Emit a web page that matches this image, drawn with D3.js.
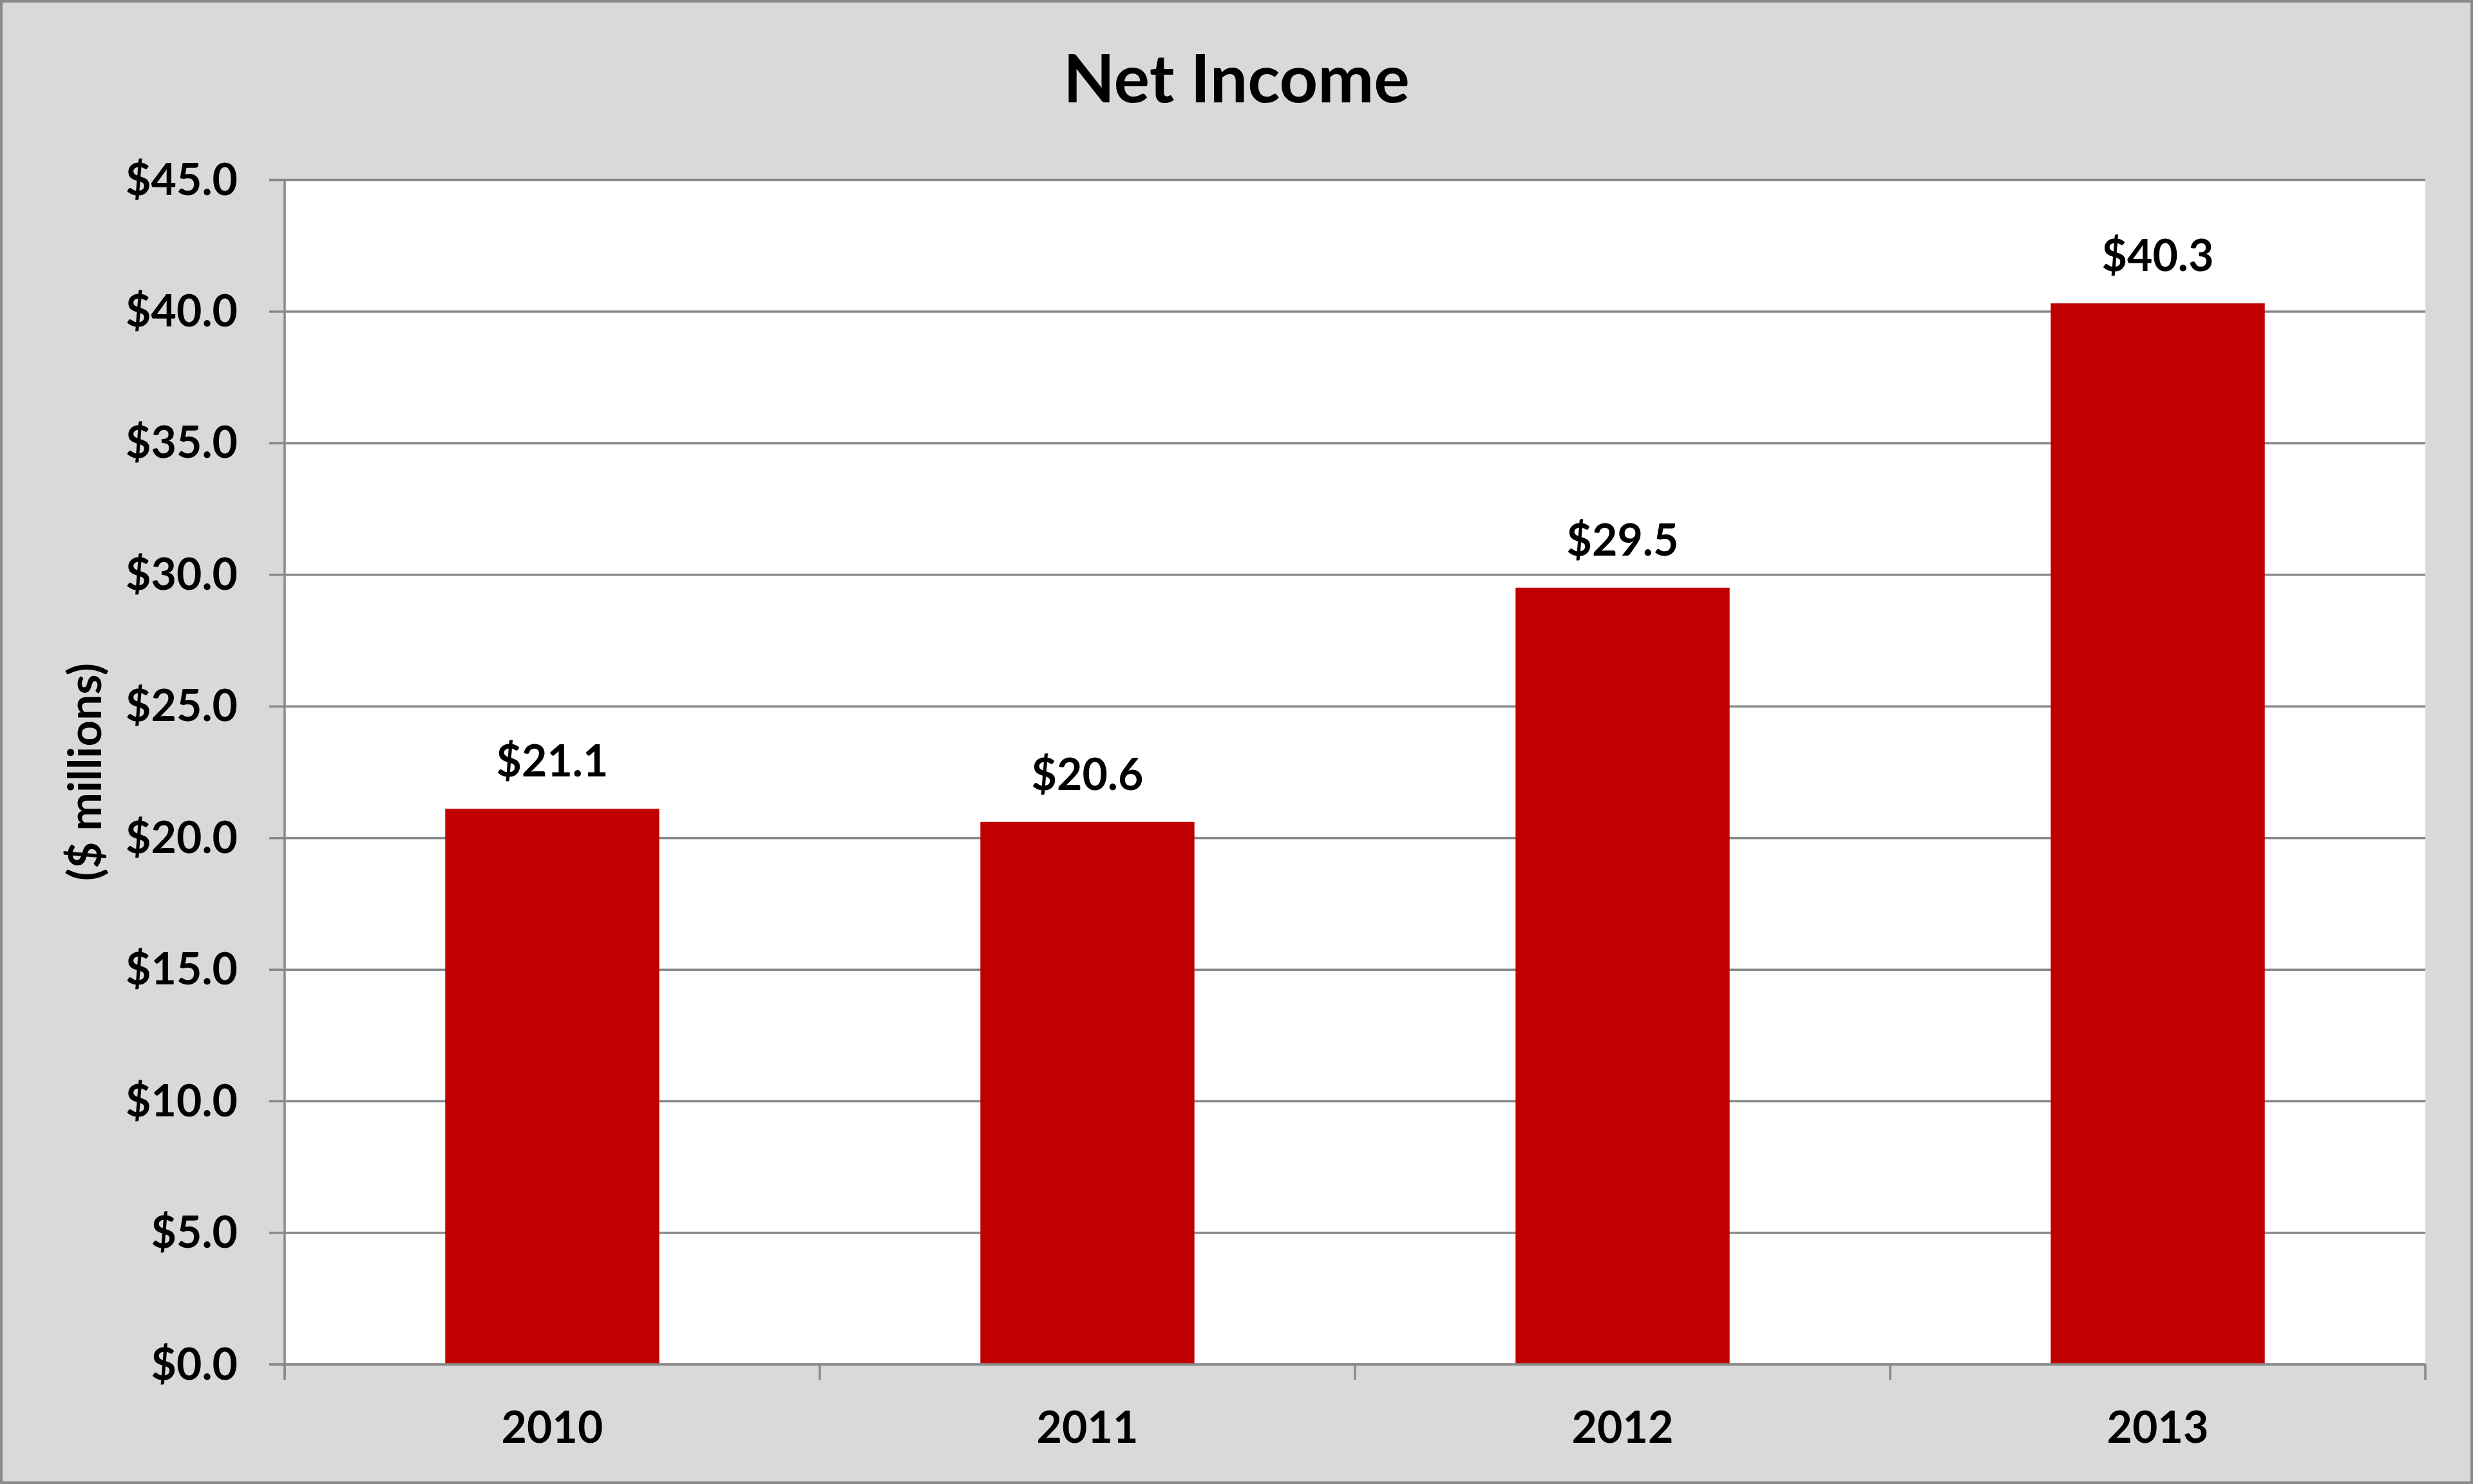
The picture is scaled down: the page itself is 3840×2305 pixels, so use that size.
<!DOCTYPE html>
<html>
<head>
<meta charset="utf-8">
<script src="https://cdn.jsdelivr.net/npm/d3@7"></script>
<style>
  html, body { margin: 0; padding: 0; background: #d9d9d9; }
  svg { display: block; }
  text { font-family: Lato, "Open Sans", sans-serif; font-weight: bold; fill: #000; }
</style>
</head>
<body>
<script>
// ---- data ----
const categories = ["2010", "2011", "2012", "2013"];
const netIncome = [21.1, 20.6, 29.5, 40.3];
const yTicks = [0, 5, 10, 15, 20, 25, 30, 35, 40, 45];
const chartTitle = "Net Income";
const yAxisTitle = "($ millions)";

const W = 3840, H = 2305;
const margin = { left: 442, right: 3840 - 3766, top: 279, bottom: 2305 - 2119 };
const tickLen = 24;
const gridColor = "#898989";

const svg = d3.select("body").append("svg")
  .attr("width", W).attr("height", H);

// background + outer border
svg.append("rect").attr("x", 2).attr("y", 2).attr("width", W - 4).attr("height", H - 4)
  .attr("fill", "#d9d9d9").attr("stroke", "#8a8a8a").attr("stroke-width", 4);

const x = d3.scaleBand().domain(categories)
  .range([margin.left, W - margin.right]).paddingInner(0.6).paddingOuter(0.3);
const y = d3.scaleLinear().domain([0, 45]).range([H - margin.bottom, margin.top]);

// plot area
svg.append("rect")
  .attr("x", margin.left).attr("y", margin.top)
  .attr("width", W - margin.right - margin.left)
  .attr("height", H - margin.bottom - margin.top)
  .attr("fill", "#ffffff");

// y axis with gridlines
const yAxis = d3.axisLeft(y).tickValues(yTicks)
  .tickSize(-(W - margin.right - margin.left) - tickLen)
  .tickFormat(d => "$" + d3.format(".1f")(d));
const gy = svg.append("g").attr("transform", `translate(${margin.left - tickLen},0)`).call(yAxis);
gy.select(".domain").remove();
gy.selectAll(".tick line").attr("stroke", gridColor).attr("stroke-width", 3.5);
gy.selectAll(".tick text")
  .attr("x", -49).attr("dy", null).attr("y", 23)
  .attr("text-anchor", "end")
  .style("font-size", "68px").style("font-family", "Lato, 'Open Sans', sans-serif").style("font-weight", "bold");
gy.attr("font-size", null).attr("font-family", null);

// y axis vertical line
svg.append("line")
  .attr("x1", margin.left).attr("x2", margin.left)
  .attr("y1", margin.top).attr("y2", H - margin.bottom + tickLen)
  .attr("stroke", gridColor).attr("stroke-width", 3.5);

// bars
svg.append("g").selectAll("rect").data(netIncome).join("rect")
  .attr("x", (d, i) => x(categories[i]))
  .attr("width", x.bandwidth())
  .attr("y", d => y(d))
  .attr("height", d => y(0) - y(d))
  .attr("fill", "#c00000");

// x axis line (redraw over bars)
svg.append("line")
  .attr("x1", margin.left - tickLen).attr("x2", W - margin.right)
  .attr("y1", y(0)).attr("y2", y(0))
  .attr("stroke", gridColor).attr("stroke-width", 3.5);

// x ticks at category boundaries
const step = x.step();
const boundaries = d3.range(categories.length + 1).map(i => margin.left + i * step);
svg.append("g").selectAll("line").data(boundaries).join("line")
  .attr("x1", d => d).attr("x2", d => d)
  .attr("y1", y(0)).attr("y2", y(0) + tickLen)
  .attr("stroke", gridColor).attr("stroke-width", 3.5);

// x labels
svg.append("g").selectAll("text").data(categories).join("text")
  .attr("x", d => x(d) + x.bandwidth() / 2)
  .attr("y", 2241)
  .attr("text-anchor", "middle")
  .style("font-size", "68px")
  .text(d => d);

// data labels
svg.append("g").selectAll("text").data(netIncome).join("text")
  .attr("x", (d, i) => x(categories[i]) + x.bandwidth() / 2)
  .attr("y", d => y(d) - 50)
  .attr("text-anchor", "middle")
  .style("font-size", "68px")
  .text(d => "$" + d3.format(".1f")(d));

// title
svg.append("text")
  .attr("x", W / 2).attr("y", 159)
  .attr("text-anchor", "middle")
  .style("font-size", "104px")
  .text(chartTitle);

// y axis title
svg.append("text")
  .attr("transform", `translate(157, ${(margin.top + H - margin.bottom) / 2}) rotate(-90)`)
  .attr("text-anchor", "middle")
  .style("font-size", "71px")
  .text(yAxisTitle);
</script>
</body>
</html>
